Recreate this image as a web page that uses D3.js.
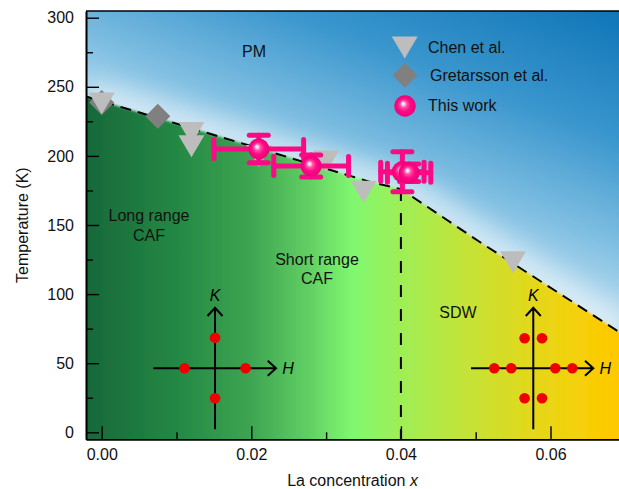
<!DOCTYPE html>
<html><head><meta charset="utf-8">
<script src="https://cdn.jsdelivr.net/npm/d3@7"></script>
<style>
html,body{margin:0;padding:0;background:#fff;}
svg{display:block;font-family:"Liberation Sans",Arial,Helvetica,sans-serif;}
</style></head>
<body>
<svg id="chart" width="619" height="489"></svg>
<script>
// ---- data ----
const xTicks = [0, 0.02, 0.04, 0.06];
const xMinorTicks = [0.01, 0.03, 0.05];
const yTicks = [0, 50, 100, 150, 200, 250, 300];
const yMinorTicks = [25, 75, 125, 175, 225, 275];

const chenX = [0, 0.012, 0.012, 0.021, 0.030, 0.035, 0.040, 0.055];
const chenT = [238, 216.5, 207, 200, 196, 174, 185, 123];

const gretX = [0, 0.0075];
const gretT = [238.6, 228.7];

const workX = [0.0210, 0.0280, 0.0402, 0.0411];
const workT = [205, 192.7, 188.5, 187.8];
const workXErr = [0.006, 0.005, 0.0029, 0.0029];
const workTErr = [10, 8, 14.5, 6.4];

const boundaryX = [-0.0021, 0.036, 0.040, 0.0506, 0.0692];
const boundaryT = [243, 181, 176, 137.5, 72.5];

const legendLabels = ["Chen et al.", "Gretarsson et al.", "This work"];

// inset reciprocal-space sketches: centre in data units, peaks as offsets
const insetCentres = [[0.01515, 46.3], [0.0577, 46.3]];
const peaksCAF = [[0, -30.5], [0, 30], [-30.5, 0], [30.5, 0]];
const peaksSDW = [[-8.7, -30], [8.7, -30], [-8.7, 30], [8.7, 30], [-39, 0], [-22, 0], [22, 0], [39, 0]];

// ---- layout ----
const svg = d3.select("#chart");
const L = 86, R = 619, T = 11, B = 439.3;
const x = d3.scaleLinear().domain([-0.0021, 0.06916]).range([L, R]);
const y = d3.scaleLinear().domain([-5.07, 304.85]).range([B, T]);

const defs = svg.append("defs");
defs.append("clipPath").attr("id", "plotclip").append("rect")
  .attr("x", L).attr("y", T).attr("width", R - L).attr("height", B - T);

const bg = defs.append("linearGradient").attr("id", "bgGrad")
  .attr("gradientUnits", "userSpaceOnUse")
  .attr("x1", 600).attr("y1", -10).attr("x2", 480).attr("y2", 300);
[[0, "#0a72b6"], [0.4, "#3a96cd"], [0.7, "#80bfe2"], [1, "#d6ebf6"]]
  .forEach(([o, c]) => bg.append("stop").attr("offset", o).attr("stop-color", c));

const gg = defs.append("linearGradient").attr("id", "greenGrad")
  .attr("gradientUnits", "userSpaceOnUse")
  .attr("x1", L).attr("y1", 0).attr("x2", R).attr("y2", 0);
[[0, "#176839"], [0.18, "#258a45"], [0.31, "#3ea552"], [0.42, "#62d064"], [0.5, "#80f870"],
 [0.6, "#a2ee54"], [0.72, "#c6e236"], [0.83, "#e2d81c"], [0.93, "#f6d008"], [1, "#ffc800"]]
  .forEach(([o, c]) => gg.append("stop").attr("offset", o).attr("stop-color", c));

const pg = defs.append("radialGradient").attr("id", "pinkGrad")
  .attr("cx", 0.5).attr("cy", 0.5).attr("r", 0.5).attr("fx", 0.4).attr("fy", 0.38);
[[0, "#ffffff"], [0.14, "#ffd0e8"], [0.32, "#ff4fa6"], [0.6, "#ff0a84"], [1, "#ec007a"]]
  .forEach(([o, c]) => pg.append("stop").attr("offset", o).attr("stop-color", c));

defs.append("filter").attr("id", "glow").attr("x", "-20%").attr("y", "-50%").attr("width", "140%").attr("height", "200%")
  .append("feGaussianBlur").attr("stdDeviation", 12);
defs.append("filter").attr("id", "soft")
  .append("feGaussianBlur").attr("stdDeviation", 1.2);

const plot = svg.append("g").attr("clip-path", "url(#plotclip)");
plot.append("rect").attr("x", L).attr("y", T).attr("width", R - L).attr("height", B - T)
  .attr("fill", "url(#bgGrad)");

const bpts = boundaryX.map((v, i) => [v, boundaryT[i]]);
const bline = d3.line().x(d => x(d[0])).y(d => y(d[1]));

// light glow above the boundary
plot.append("path").attr("d", bline(bpts)).attr("fill", "none")
  .attr("stroke", "#eef6fb").attr("stroke-width", 36).attr("opacity", 0.6)
  .attr("filter", "url(#glow)");

// green/yellow ordered region
const ext = [[-0.01, boundaryT[0]]].concat(bpts, [[0.08, boundaryT[boundaryT.length - 1] - 40]]);
const area = d3.area().x(d => x(d[0])).y0(y(-40)).y1(d => y(d[1]));
plot.append("path").attr("d", area(ext)).attr("fill", "url(#greenGrad)").attr("filter", "url(#soft)");

// phase boundary
plot.append("path").attr("d", bline(bpts)).attr("fill", "none")
  .attr("stroke", "#000").attr("stroke-width", 2).attr("stroke-dasharray", "11,7");
// vertical dashed line at x = 0.04
plot.append("line").attr("x1", x(0.04)).attr("x2", x(0.04))
  .attr("y1", y(176)).attr("y2", B)
  .attr("stroke", "#000").attr("stroke-width", 2).attr("stroke-dasharray", "12,12");

// markers
const triPath = (cx, cy) => `M${cx - 13},${cy - 11}L${cx + 13},${cy - 11}L${cx},${cy + 11}Z`;
const diaPath = (cx, cy) => `M${cx},${cy - 12.5}L${cx + 12.5},${cy}L${cx},${cy + 12.5}L${cx - 12.5},${cy}Z`;

plot.append("g").selectAll("path").data(gretX).join("path")
  .attr("d", (d, i) => diaPath(x(d), y(gretT[i]))).attr("fill", "#808080");
plot.append("g").selectAll("path").data(chenX).join("path")
  .attr("d", (d, i) => triPath(x(d), y(chenT[i]))).attr("fill", "#bdbdbd");

// this work: error bars
const pink = "#fa0a84";
const eb = plot.append("g").attr("stroke", pink).attr("stroke-width", 5).attr("stroke-linecap", "round");
workX.forEach((v, i) => {
  const cx = x(v), cy = y(workT[i]);
  const x0 = x(v - workXErr[i]), x1 = x(v + workXErr[i]);
  const y0 = y(workT[i] + workTErr[i]), y1 = y(workT[i] - workTErr[i]);
  const c = 9.5;
  eb.append("line").attr("x1", x0).attr("x2", x1).attr("y1", cy).attr("y2", cy);
  eb.append("line").attr("x1", cx).attr("x2", cx).attr("y1", y0).attr("y2", y1);
  eb.append("line").attr("x1", x0).attr("x2", x0).attr("y1", cy - c).attr("y2", cy + c);
  eb.append("line").attr("x1", x1).attr("x2", x1).attr("y1", cy - c).attr("y2", cy + c);
  eb.append("line").attr("x1", cx - c).attr("x2", cx + c).attr("y1", y0).attr("y2", y0);
  eb.append("line").attr("x1", cx - c).attr("x2", cx + c).attr("y1", y1).attr("y2", y1);
});
plot.append("g").selectAll("circle").data(workX).join("circle")
  .attr("cx", d => x(d)).attr("cy", (d, i) => y(workT[i])).attr("r", 10.5)
  .attr("fill", "url(#pinkGrad)");

// region labels
const lab = svg.append("g").attr("font-size", 16).attr("fill", "#111").attr("text-anchor", "middle");
lab.append("text").attr("x", 254).attr("y", 57).text("PM");
lab.append("text").attr("x", 149).attr("y", 221).text("Long range");
lab.append("text").attr("x", 149).attr("y", 241).text("CAF");
lab.append("text").attr("x", 317).attr("y", 265).text("Short range");
lab.append("text").attr("x", 317).attr("y", 284).text("CAF");
lab.append("text").attr("x", 458).attr("y", 318).text("SDW");

// insets
[peaksCAF, peaksSDW].forEach((peaks, k) => {
  const cx = x(insetCentres[k][0]), cy = y(insetCentres[k][1]);
  const g = svg.append("g");
  const hx0 = k === 0 ? cx - 61.7 : cx - 62.3, hx1 = k === 0 ? cx + 61 : cx + 60;
  const p = d3.path();
  p.moveTo(cx, cy + 61); p.lineTo(cx, cy - 60.6);
  p.moveTo(cx - 7.5, cy - 52.3); p.lineTo(cx, cy - 60.6); p.lineTo(cx + 7.5, cy - 52.3);
  p.moveTo(hx0, cy); p.lineTo(hx1, cy);
  p.moveTo(hx1 - 8.3, cy - 7.5); p.lineTo(hx1, cy); p.lineTo(hx1 - 8.3, cy + 7.5);
  g.append("path").attr("d", p.toString()).attr("stroke", "#000").attr("stroke-width", 2).attr("fill", "none");
  g.selectAll("circle").data(peaks).join("circle")
    .attr("cx", d => cx + d[0]).attr("cy", d => cy + d[1]).attr("r", 5.3).attr("fill", "#ee0000");
  g.append("text").attr("x", cx).attr("y", cy - 67).attr("text-anchor", "middle")
    .attr("font-size", 16).attr("font-style", "italic").text("K");
  g.append("text").attr("x", hx1 + 12).attr("y", cy + 6).attr("text-anchor", "middle")
    .attr("font-size", 16).attr("font-style", "italic").text("H");
});

// legend
const lg = svg.append("g").attr("font-size", 16).attr("fill", "#111");
lg.append("path").attr("d", triPath(404.7, 47.5)).attr("fill", "#bdbdbd");
lg.append("path").attr("d", diaPath(405, 75.2)).attr("fill", "#808080");
lg.append("circle").attr("cx", 405).attr("cy", 106).attr("r", 10.7).attr("fill", "url(#pinkGrad)");
lg.append("text").attr("x", 428).attr("y", 53).text(legendLabels[0]);
lg.append("text").attr("x", 430).attr("y", 80.5).text(legendLabels[1]);
lg.append("text").attr("x", 428).attr("y", 111).text(legendLabels[2]);

// axes
const ax = svg.append("g");
const yAx = ax.append("g").attr("transform", `translate(${L},0)`)
  .call(d3.axisLeft(y).tickValues(yTicks).tickSize(-13).tickSizeOuter(0).tickPadding(12).tickFormat(d3.format("d")));
const yAxMinor = ax.append("g").attr("transform", `translate(${L},0)`)
  .call(d3.axisLeft(y).tickValues(yMinorTicks).tickSize(-7).tickSizeOuter(0).tickFormat(""));
const xAx = ax.append("g").attr("transform", `translate(0,${B})`)
  .call(d3.axisBottom(x).tickValues(xTicks).tickSize(-13).tickSizeOuter(0).tickPadding(9).tickFormat(d3.format(".2f")));
const xAxMinor = ax.append("g").attr("transform", `translate(0,${B})`)
  .call(d3.axisBottom(x).tickValues(xMinorTicks).tickSize(-7).tickSizeOuter(0).tickFormat(""));
[yAx, yAxMinor, xAx, xAxMinor].forEach(a => {
  a.selectAll("path.domain").attr("stroke", "#000").attr("stroke-width", 1.6);
  a.selectAll(".tick line").attr("stroke", "#000").attr("stroke-width", 1.4);
  a.selectAll(".tick text").attr("font-size", 16).attr("fill", "#111")
    .attr("font-family", '"Liberation Sans",Arial,sans-serif');
});
ax.append("line").attr("x1", L).attr("x2", R).attr("y1", T).attr("y2", T)
  .attr("stroke", "#000").attr("stroke-width", 1.6);

// axis titles
const xt = svg.append("text").attr("x", (L + R) / 2).attr("y", 486).attr("text-anchor", "middle")
  .attr("font-size", 16).attr("fill", "#111");
xt.append("tspan").text("La concentration ");
xt.append("tspan").attr("font-style", "italic").text("x");
svg.append("text").attr("transform", `translate(27.5,${(T + B) / 2}) rotate(-90)`)
  .attr("text-anchor", "middle").attr("font-size", 16).attr("fill", "#111").text("Temperature (K)");
</script>
</body></html>
